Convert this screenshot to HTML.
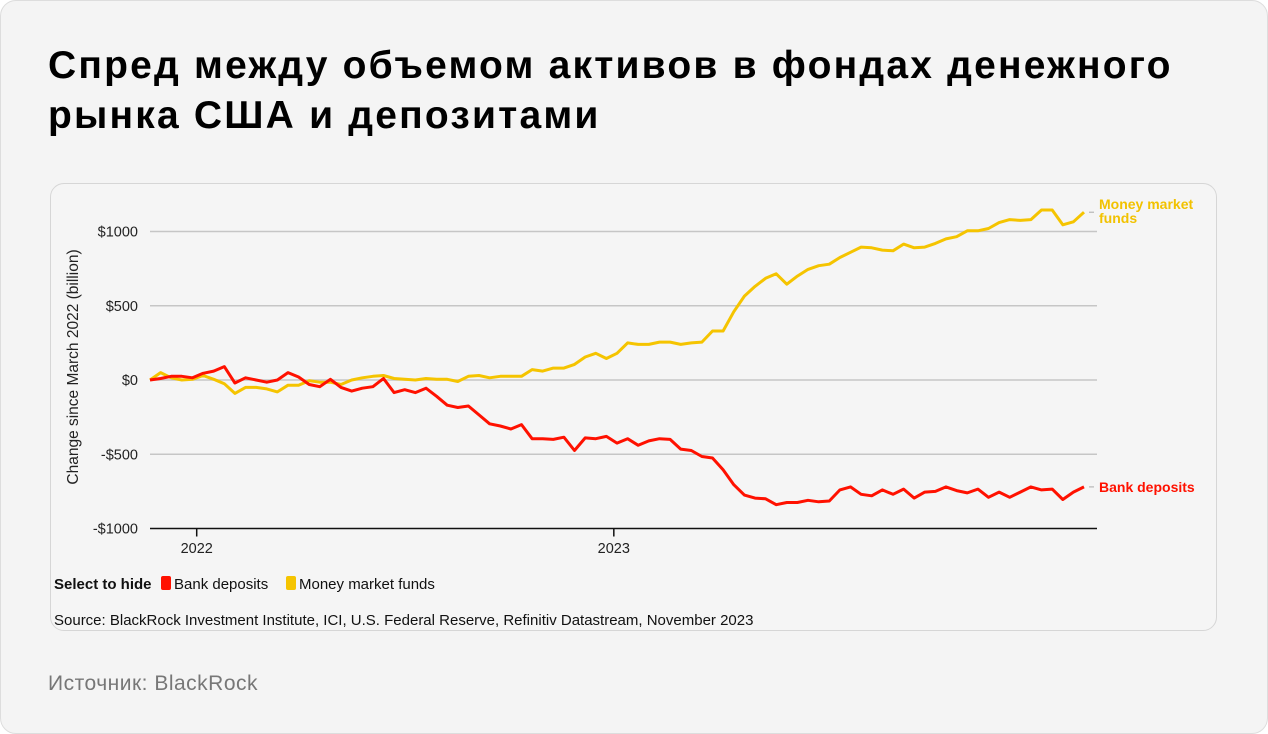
<!DOCTYPE html>
<html><head><meta charset="utf-8"><style>
body{margin:0;width:1268px;height:734px;background:#fff;font-family:"Liberation Sans",sans-serif;overflow:hidden}
#outer{position:absolute;left:0;top:0;width:1266px;height:732px;border:1px solid #ddd;border-radius:16px;background:#f4f4f4}
h1{position:absolute;left:48px;top:41px;margin:0;font-size:39px;line-height:50px;font-weight:bold;color:#000;width:1190px;letter-spacing:2.2px}
#card{position:absolute;left:50px;top:183px;width:1165px;height:446px;border:1px solid #d6d6d6;border-radius:14px;background:#f5f5f5}
#src2{position:absolute;left:48px;top:672px;font-size:21px;color:#777;letter-spacing:0.5px}
</style></head><body>
<div id="outer"></div>
<h1>Спред между объемом активов в фондах денежного рынка США и депозитами</h1>
<div id="card"></div>
<svg id="chart" width="1268" height="734" style="position:absolute;left:0;top:0"></svg>
<div id="src2">Источник: BlackRock</div>
<script>
const yTicks=[1000,500,0,-500,-1000];
const yTickLabels=["$1000","$500","$0","-$500","-$1000"];
const xTickLabels=["2022","2023"];
const xTickIdx=[4.4,43.7];
const bank=[0,10,25,25,15,45,60,90,-20,15,0,-15,0,50,20,-30,-45,5,-50,-75,-55,-45,10,-85,-65,-85,-55,-110,-170,-185,-175,-235,-295,-310,-330,-300,-395,-395,-400,-385,-475,-390,-395,-380,-425,
-395,-440,-410,-395,-400,-465,-475,-515,-525,-605,-705,-775,-795,-800,-840,-825,-825,-810,-820,-815,-740,-720,-770,-780,-740,-770,-735,-795,-755,-750,-720,-745,-760,-735,-790,-755,-790,-755,-720,-740,-735,-805,-755,-720];
const mmf=[0,50,15,0,5,30,5,-25,-90,-50,-50,-60,-80,-35,-35,-5,-15,-15,-30,0,15,25,30,10,5,0,10,5,5,-10,25,30,15,25,25,25,70,60,80,80,105,155,180,145,180,
250,240,240,255,255,240,250,255,330,330,460,565,630,685,715,645,700,745,770,780,825,860,895,890,875,870,915,890,895,920,950,965,1005,1005,1020,1060,1080,1075,1080,1145,1145,1045,1065,1130];
const NS="http://www.w3.org/2000/svg",svg=document.getElementById('chart');
const n=bank.length;
const X=i=>150+i*(1084-150)/(n-1);
const Y=v=>380-v*0.1485;
function el(t,a,txt){const e=document.createElementNS(NS,t);for(const k in a)e.setAttribute(k,a[k]);if(txt!==undefined)e.textContent=txt;svg.appendChild(e);return e;}
yTicks.forEach((v,i)=>{
 if(v!==-1000){const g=el('line',{x1:150,x2:1097,y1:Y(v),y2:Y(v),stroke:'#c6c6c6','stroke-width':1.5});
 
 }
 const t=el('text',{x:138,y:Y(v)+5,'text-anchor':'end','font-size':14.5,fill:'#222'},yTickLabels[i]);
 
 
});
const ax=el('line',{x1:150,x2:1097,y1:Y(-1000),y2:Y(-1000),stroke:'#111','stroke-width':1.5});


xTickLabels.forEach((l,i)=>{
 const x=X(xTickIdx[i]);
 const tk=el('line',{x1:x,x2:x,y1:Y(-1000),y2:Y(-1000)+8,stroke:'#111','stroke-width':1.5});
 
 
 const t=el('text',{x:x,y:553,'text-anchor':'middle','font-size':14.5,fill:'#222'},l);
 
 
});
const yt=el('text',{x:0,y:0,transform:'translate(78,367) rotate(-90)','text-anchor':'middle','font-size':15.5,fill:'#222'},'Change since March 2022 (billion)');


function line(d,c,name){
 const p=el('polyline',{points:d.map((v,i)=>X(i).toFixed(1)+','+Y(v).toFixed(1)).join(' '),fill:'none',stroke:c,'stroke-width':3,'stroke-linejoin':'round'});
 
 
}
line(mmf,'#f5c400','money-market-funds-line');
line(bank,'#ff1100','bank-deposits-line');
const ym=Y(mmf[n-1]),yb=Y(bank[n-1]);
el('line',{x1:1089,x2:1094,y1:ym,y2:ym,stroke:'#aaa'});
el('line',{x1:1089,x2:1094,y1:yb,y2:yb,stroke:'#aaa'});
const l1=el('text',{x:1099,y:ym-3,'font-size':14,'font-weight':'bold',fill:'#f2c200'},'Money market');


const l1b=el('text',{x:1099,y:ym+11,'font-size':14,'font-weight':'bold',fill:'#f2c200'},'funds');


const l2=el('text',{x:1099,y:yb+5,'font-size':14,'font-weight':'bold',fill:'#ff1100'},'Bank deposits');


const lg=el('text',{x:54,y:589,'font-size':15,'font-weight':'bold',fill:'#111'},'Select to hide');


const r1=el('rect',{x:161,y:576,width:10,height:14,rx:2,fill:'#ff1100'});


const t1=el('text',{x:174,y:589,'font-size':15,fill:'#111'},'Bank deposits');


const r2=el('rect',{x:286,y:576,width:10,height:14,rx:2,fill:'#f5c400'});


const t2=el('text',{x:299,y:589,'font-size':15,fill:'#111'},'Money market funds');


const s=el('text',{x:54,y:625,'font-size':15,fill:'#111'},'Source: BlackRock Investment Institute, ICI, U.S. Federal Reserve, Refinitiv Datastream, November 2023');


</script>
</body></html>
